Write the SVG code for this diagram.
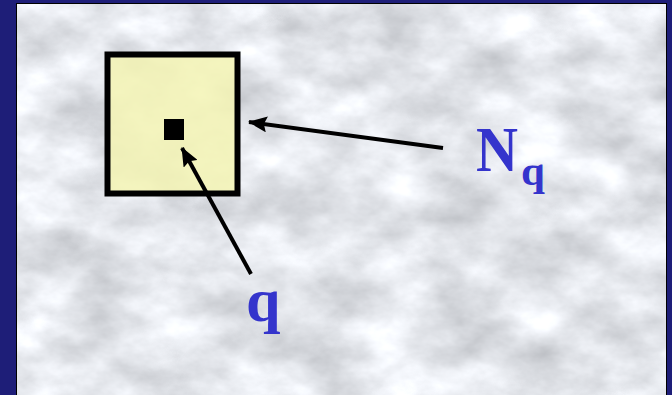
<svg xmlns="http://www.w3.org/2000/svg" width="672" height="395" viewBox="0 0 672 395">
  <style>
    .lbl { font-family: "Liberation Serif", "Times New Roman", serif; font-weight: bold; fill: #3434cc; }
    .conn { stroke: #000; stroke-width: 4; fill: none; }
  </style>
  <defs>
    <filter id="marble" x="0" y="0" width="100%" height="100%" color-interpolation-filters="sRGB">
      <feTurbulence type="fractalNoise" baseFrequency="0.014 0.022" numOctaves="5" seed="7" result="n"/>
      <feColorMatrix in="n" type="matrix" values="0.38 0 0 0 0.70  0.38 0 0 0 0.71  0.38 0 0 0 0.73  0 0 0 0 1"/>
    </filter>
    <marker id="arrow" markerUnits="userSpaceOnUse" markerWidth="20" markerHeight="16" refX="18" refY="8" orient="auto">
      <path d="M0,0 L19,8 L0,16 L3,8 Z" fill="#000"/>
    </marker>
  </defs>

  <!-- frame -->
  <rect x="0" y="0" width="672" height="395" fill="#1e1e78"/>
  <rect x="16" y="3" width="651" height="392" fill="#000"/>
  <rect x="17" y="4" width="649" height="391" fill="#e6e8ea"/>
  <rect x="17" y="4" width="649" height="391" filter="url(#marble)"/>

  <g id="region-Nq">
    <rect x="107.5" y="54.5" width="130" height="139" fill="#f4f4b4" fill-opacity="0.85" stroke="#000" stroke-width="6"/>
  </g>
  <g id="point-q">
    <rect x="164" y="119" width="20" height="21" fill="#000"/>
  </g>

  <g id="connectors">
    <line class="conn" x1="443" y1="148" x2="249" y2="122" marker-end="url(#arrow)"/>
    <line class="conn" x1="251" y1="274" x2="182" y2="148" marker-end="url(#arrow)"/>
  </g>

  <g id="label-Nq">
    <text class="lbl" x="476" y="171" font-size="63" textLength="42" lengthAdjust="spacingAndGlyphs">N</text>
    <text class="lbl" x="521" y="185" font-size="43">q</text>
  </g>
  <g id="label-q">
    <text class="lbl" x="246" y="321" font-size="62">q</text>
  </g>
</svg>
